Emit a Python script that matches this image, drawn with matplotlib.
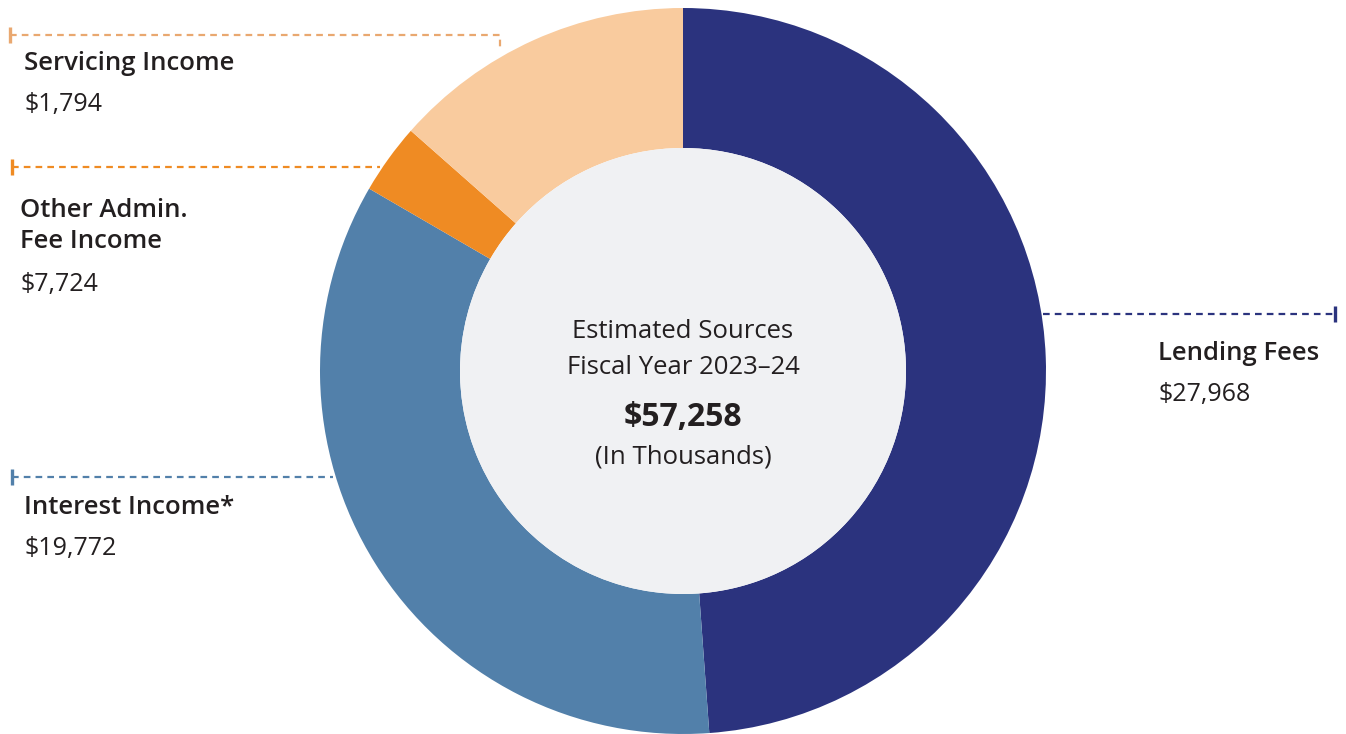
"""
Donut chart: estimated sources, fiscal year 2023-24.
"""

import matplotlib.pyplot as plt
from matplotlib.patches import Circle

# ============== Data ==============
CATEGORIES = ['Lending Fees', 'Interest Income*', 'Servicing Income', 'Other Admin.\nFee Income']
VALUES = [27968, 19772, 1794, 7724]
SLICE_COLORS = ['#2B337E', '#5280AA', '#EF8B23', '#F9CB9E']
TOTAL = sum(VALUES)

# label layout (pixel coords, y from top): text x, label y, value y
LABEL_POS = {
    'Lending Fees': (1158, 353, 395),
    'Interest Income*': (24, 508, 549),
    'Servicing Income': (24, 63, 104),
    'Other Admin.\nFee Income': (20, 226, 284),
}
# leader lines: x0, x1, y, tick side, drop (vertical end), colour
LEADERS = {
    'Lending Fees': (1043, 1335, 314, 'right', 0, '#2B337E'),
    'Interest Income*': (12, 333, 477, 'left', 0, '#5280AA'),
    'Servicing Income': (10, 500, 35, 'left', 16, '#E9A870'),
    'Other Admin.\nFee Income': (12, 380, 167, 'left', 0, '#EF8B23'),
}

W, H = 1346, 734
CX, CY = 683, 371
R_OUT, R_IN = 363, 223
TEXT_COLOR = '#231F20'
FONT = ['Open Sans', 'DejaVu Sans']


def Y(y):
    """Pixel row (from top) to data y."""
    return H - y


def main():
    plt.rcParams['font.family'] = FONT
    fig = plt.figure(figsize=(W / 100, H / 100), dpi=100)
    ax = fig.add_axes([0, 0, 1, 1])

    ax.pie(VALUES, colors=SLICE_COLORS, startangle=90, counterclock=False,
           radius=R_OUT, center=(CX, Y(CY)), frame=True,
           wedgeprops=dict(width=R_OUT - R_IN, edgecolor='none', linewidth=0))
    ax.set_xlim(0, W)
    ax.set_ylim(0, H)
    ax.set_aspect('equal')
    ax.axis('off')
    ax.add_patch(Circle((CX, Y(CY)), R_IN, facecolor='#F0F1F3', edgecolor='none', zorder=3))

    # center text
    ax.text(CX, Y(332), 'Estimated Sources', ha='center', va='center',
            fontsize=18.5, color=TEXT_COLOR, zorder=4)
    ax.text(CX, Y(368), 'Fiscal Year 2023–24', ha='center', va='center',
            fontsize=18.5, color=TEXT_COLOR, zorder=4)
    ax.text(CX, Y(418), f'${TOTAL:,}', ha='center', va='center',
            fontsize=23, fontweight='bold', color=TEXT_COLOR, zorder=4)
    ax.text(CX, Y(457), '(In Thousands)', ha='center', va='center',
            fontsize=18.5, color=TEXT_COLOR, zorder=4)

    # labels and leader lines
    for name, val in zip(CATEGORIES, VALUES):
        tx, ly, vy = LABEL_POS[name]
        ax.text(tx, Y(ly), name, ha='left', va='center', fontsize=18.5,
                fontweight='semibold', color=TEXT_COLOR, linespacing=1.3)
        ax.text(tx, Y(vy), f'${val:,}', ha='left', va='center', fontsize=18,
                color=TEXT_COLOR)

        x0, x1, ly2, side, drop, col = LEADERS[name]
        xs, ys = [x0, x1], [Y(ly2), Y(ly2)]
        if drop:
            xs.append(x1)
            ys.append(Y(ly2 + drop))
        ax.plot(xs, ys, color=col, lw=1.6, linestyle=(0, (3, 2.3)),
                solid_capstyle='butt', dash_capstyle='butt')
        tick_x = x0 if side == 'left' else x1
        ax.plot([tick_x, tick_x], [Y(ly2 - 8), Y(ly2 + 8)], color=col, lw=2.4,
                solid_capstyle='butt')

    plt.savefig('out.png', dpi=100)


if __name__ == '__main__':
    main()
